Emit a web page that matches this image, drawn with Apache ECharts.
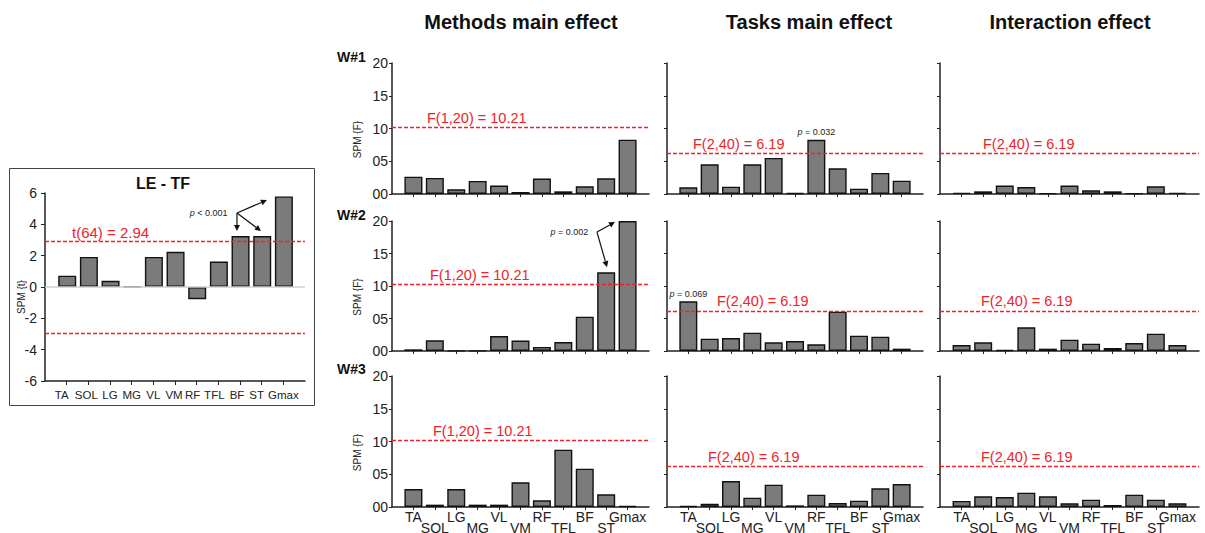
<!DOCTYPE html>
<html><head><meta charset="utf-8">
<script src="https://cdn.jsdelivr.net/npm/echarts@6/dist/echarts.min.js"></script>
<style>html,body{margin:0;padding:0;background:#fff}#c{width:1205px;height:533px}</style>
</head><body><div id="c"></div>
<script>
// ---------- data ----------
const muscles = ['TA','SOL','LG','MG','VL','VM','RF','TFL','BF','ST','Gmax'];
const leTF = [0.72, 1.92, 0.40, 0.02, 1.92, 2.25, -0.78, 1.62, 3.25, 3.25, 5.78];
const methodsW1 = [2.65, 2.45, 0.71, 2.00, 1.28, 0.31, 2.35, 0.41, 1.17, 2.40, 8.30];
const methodsW2 = [0.26, 1.64, 0.05, 0.05, 2.30, 1.60, 0.62, 1.38, 5.28, 12.10, 20.00];
const methodsW3 = [2.75, 0.36, 2.75, 0.36, 0.36, 3.77, 1.02, 8.75, 5.85, 1.93, 0.15];
const tasksW1 = [1.02, 4.54, 1.12, 4.54, 5.51, 0.15, 8.27, 3.93, 0.82, 3.21, 2.04];
const tasksW2 = [7.64, 1.90, 2.00, 2.82, 1.33, 1.54, 1.03, 6.05, 2.36, 2.20, 0.36];
const tasksW3 = [0.15, 0.50, 3.97, 1.42, 3.41, 0.25, 1.88, 0.61, 0.97, 2.85, 3.51];
const interW1 = [0.20, 0.41, 1.28, 1.07, 0.10, 1.28, 0.56, 0.41, 0.10, 1.17, 0.20];
const interW2 = [0.92, 1.33, 0.15, 3.64, 0.36, 1.74, 1.13, 0.46, 1.23, 2.67, 0.92];
const interW3 = [0.92, 1.63, 1.53, 2.19, 1.63, 0.56, 1.12, 0.31, 1.88, 1.12, 0.56];
const tCrit = 2.94;
const fMethods = 10.21;
const fTasks = 6.19;
const tLabel = 't(64) = 2.94';
const fMethodsLabel = 'F(1,20) = 10.21';
const fTasksLabel = 'F(2,40) = 6.19';
const yTicksF = ['00','05','10','15','20'];
const colTitles = ['Methods main effect','Tasks main effect','Interaction effect'];
const rowTitles = ['W#1','W#2','W#3'];
const leftTitle = 'LE - TF';
// p-value notes: [panelIndex, muscleIndex, text]
const pNotes = [[2, 6, '0.032'], [5, 0, '0.069']];

// ---------- layout ----------
const FONT = '"Liberation Sans", Arial, Helvetica, sans-serif';
const AX = '#222';
const RED = '#ee2229';
const colLeft = [392, 667, 940];
const colWidth = [257, 256, 259];
const rowTop = [63, 221, 376];
const rowHeight = [131, 130, 131];
const labelDx = [[35, 26, 43], [38, 50, 41], [41, 41, 41]];
// small leftward nudges (px) of the left panel's category labels
const leftLabelShift = [5, 2, 0, 0, 0, 1, 4, 4, 3, 5, 0];
const matrix = [[methodsW1, tasksW1, interW1],[methodsW2, tasksW2, interW2],[methodsW3, tasksW3, interW3]];

const padCats = [''].concat(muscles, ['']);
const pad = a => [null].concat(a, [null]);

const chart = echarts.init(document.getElementById('c'), null, {renderer: 'svg'});

const grids = [], xAxes = [], yAxes = [], series = [];

function barStyle() {
  return {color: '#7b7b7b', borderColor: '#111', borderWidth: 1.4};
}
const redLine = {type: [4, 2], color: RED, width: 1.3};

const leftRich = {};
leftLabelShift.forEach((s, i) => {
  leftRich['s' + i] = {fontSize: 11.5, color: AX, fontFamily: FONT, padding: [0, 2 * s, 0, 0]};
});

// left panel (index 0)
grids.push({left: 45, top: 193, width: 260, height: 188, outerBoundsMode: 'none', containLabel: false});
xAxes.push({
  gridIndex: 0, type: 'category', data: padCats, boundaryGap: false,
  axisLine: {onZero: false, lineStyle: {color: AX, width: 1.5}},
  axisTick: {length: 4, interval: i => i > 0 && i < 12, lineStyle: {color: AX, width: 1}},
  axisLabel: {interval: 0, fontSize: 11.5, color: AX, margin: 8, fontFamily: FONT, hideOverlap: false,
    formatter: (v, i) => v ? '{s' + (i - 1) + '|' + v + '}' : '', rich: leftRich},
  splitLine: {show: false}
});
yAxes.push({
  gridIndex: 0, type: 'value', min: -6, max: 6, interval: 2,
  name: 'SPM {t}', nameLocation: 'middle', nameGap: 19, nameMoveOverlap: false,
  nameTextStyle: {fontSize: 10, color: AX, fontFamily: FONT, padding: [0, 20, 0, 0]},
  axisLine: {show: true, lineStyle: {color: AX, width: 1.5}},
  axisTick: {show: true, length: 4, lineStyle: {color: AX, width: 1}},
  axisLabel: {fontSize: 14, color: AX, margin: 8, fontFamily: FONT},
  splitLine: {show: false}
});
// zero reference line (helper series without bars)
series.push({
  type: 'bar', xAxisIndex: 0, yAxisIndex: 0, data: [], silent: true, animation: false, z: 1,
  markLine: {symbol: 'none', silent: true, animation: false,
    lineStyle: {type: 'solid', color: '#cfcfcf', width: 1.5}, label: {show: false},
    data: [{yAxis: 0}]}
});
series.push({
  type: 'bar', xAxisIndex: 0, yAxisIndex: 0, data: pad(leTF), barWidth: 18, z: 2,
  itemStyle: barStyle(), silent: true, animation: false,
  markLine: {
    symbol: 'none', silent: true, animation: false, lineStyle: redLine,
    label: {show: false},
    data: [
      {yAxis: tCrit, lineStyle: redLine,
       label: {show: true, position: 'insideStartTop', formatter: tLabel, distance: [27, 1], color: RED, fontSize: 15, fontFamily: FONT}},
      {yAxis: -tCrit, lineStyle: redLine, label: {show: false}}
    ]
  }
});

// 3x3 panels
for (let r = 0; r < 3; r++) {
  for (let c = 0; c < 3; c++) {
    const g = grids.length;
    grids.push({left: colLeft[c], top: rowTop[r], width: colWidth[c], height: rowHeight[r], outerBoundsMode: 'none', containLabel: false});
    xAxes.push({
      gridIndex: g, type: 'category', data: padCats, boundaryGap: false,
      axisLine: {onZero: false, lineStyle: {color: AX, width: 1.5}},
      axisTick: {length: 3, interval: i => i > 0 && i < 12, lineStyle: {color: AX, width: 1}},
      axisLabel: {
        show: r === 2, interval: 0, fontSize: 14, color: AX, margin: 4, lineHeight: 11, fontFamily: FONT, hideOverlap: false,
        formatter: (v, i) => (i % 2 === 0 && v) ? '\n' + v : v
      },
      splitLine: {show: false}
    });
    const yAx = {
      gridIndex: g, type: 'value', min: 0, max: 20, interval: 5,
      axisLine: {show: true, lineStyle: {color: AX, width: 1.5}},
      axisTick: {show: true, length: 3, lineStyle: {color: AX, width: 1}},
      axisLabel: {show: c === 0, fontSize: 14, color: AX, margin: 4, fontFamily: FONT,
        formatter: v => yTicksF[Math.round(v / 5)]},
      splitLine: {show: false}
    };
    if (c === 0) {
      yAx.name = 'SPM {F}'; yAx.nameLocation = 'middle'; yAx.nameGap = 30;
      yAx.nameTextStyle = {fontSize: 10, color: AX, fontFamily: FONT, padding: [0, 22, 0, 0]};
    }
    yAxes.push(yAx);
    const vals = pad(matrix[r][c]).map((v, i) => {
      const note = pNotes.find(p => p[0] === g && p[1] + 1 === i);
      if (!note) return v;
      return {value: v, label: {show: true, position: 'top', distance: 3,
        formatter: '{i|p}{n| = ' + note[2] + '}',
        rich: {i: {fontStyle: 'italic', fontSize: 9, color: AX, fontFamily: FONT},
               n: {fontSize: 9, color: AX, fontFamily: FONT}}}};
    });
    const thr = c === 0 ? fMethods : fTasks;
    series.push({
      type: 'bar', xAxisIndex: g, yAxisIndex: g, data: vals, barWidth: 18,
      itemStyle: barStyle(), silent: true, animation: false,
      markLine: {
        symbol: 'none', silent: true, animation: false, lineStyle: redLine,
        label: {show: true, position: 'insideStartTop', formatter: c === 0 ? fMethodsLabel : fTasksLabel,
                distance: [labelDx[r][c], 2], color: RED, fontSize: 14.5, fontFamily: FONT},
        data: [{yAxis: thr}]
      }
    });
  }
}

chart.setOption({
  animation: false,
  textStyle: {fontFamily: FONT},
  grid: grids, xAxis: xAxes, yAxis: yAxes, series: series
});

// ---------- annotations ----------
function toPx(g, xi, v) {
  const x0 = Math.floor(xi), f = xi - x0;
  const p0 = chart.convertToPixel({xAxisIndex: g, yAxisIndex: g}, [x0, v]);
  const p1 = chart.convertToPixel({xAxisIndex: g, yAxisIndex: g}, [x0 + 1, v]);
  return [p0[0] + (p1[0] - p0[0]) * f, p0[1]];
}
function arrow(p0, p1) {
  const dx = p1[0] - p0[0], dy = p1[1] - p0[1];
  const L = Math.hypot(dx, dy), ux = dx / L, uy = dy / L;
  const hl = 6, hw = 3;
  const bx = p1[0] - ux * hl, by = p1[1] - uy * hl;
  return [
    {type: 'line', silent: true, shape: {x1: p0[0], y1: p0[1], x2: bx, y2: by}, style: {stroke: '#111', lineWidth: 1.2}},
    {type: 'polygon', silent: true, shape: {points: [p1, [bx - uy * hw, by + ux * hw], [bx + uy * hw, by - ux * hw]]}, style: {fill: '#111'}}
  ];
}
function pText(p, num) {
  return {type: 'text', silent: true, x: p[0], y: p[1], style: {
    text: '{i|p}{n| ' + num + '}', align: 'right', verticalAlign: 'middle',
    rich: {i: {fontStyle: 'italic', fontSize: 9, fill: AX, fontFamily: FONT},
           n: {fontSize: 9, fill: AX, fontFamily: FONT}}}};
}

const graphic = [];
graphic.push({type: 'rect', silent: true, shape: {x: 9.5, y: 168.5, width: 305, height: 237},
  style: {fill: 'none', stroke: '#444', lineWidth: 1}});
graphic.push({type: 'text', silent: true, x: 163, y: 183, style: {text: leftTitle, align: 'center', verticalAlign: 'middle',
  fontSize: 16, fontWeight: 'bold', fill: '#111', fontFamily: FONT}});
const titleX = [521, 809, 1070];
colTitles.forEach((t, i) => graphic.push({type: 'text', silent: true, x: titleX[i], y: 22,
  style: {text: t, align: 'center', verticalAlign: 'middle', fontSize: 20, fontWeight: 'bold', fill: '#111', fontFamily: FONT}}));
const rowY = [57, 215, 369];
rowTitles.forEach((t, i) => graphic.push({type: 'text', silent: true, x: 337, y: rowY[i],
  style: {text: t, align: 'left', verticalAlign: 'middle', fontSize: 14, fontWeight: 'bold', fill: '#111', fontFamily: FONT}}));

// left panel note
const o1 = toPx(0, 8.86, 4.72);
graphic.push(pText(toPx(0, 8.42, 4.72), '< 0.001'));
[[8.86, 3.57], [9.97, 3.57], [10.24, 5.55]].forEach(e => graphic.push(...arrow(o1, toPx(0, e[0], e[1]))));
// methods W#2 note
const o2 = toPx(4, 9.57, 18.3);
graphic.push(pText(toPx(4, 9.16, 18.3), '= 0.002'));
[[10.41, 19.85], [10.04, 12.9]].forEach(e => graphic.push(...arrow(o2, toPx(4, e[0], e[1]))));

chart.setOption({graphic: graphic});
</script>
</body></html>
